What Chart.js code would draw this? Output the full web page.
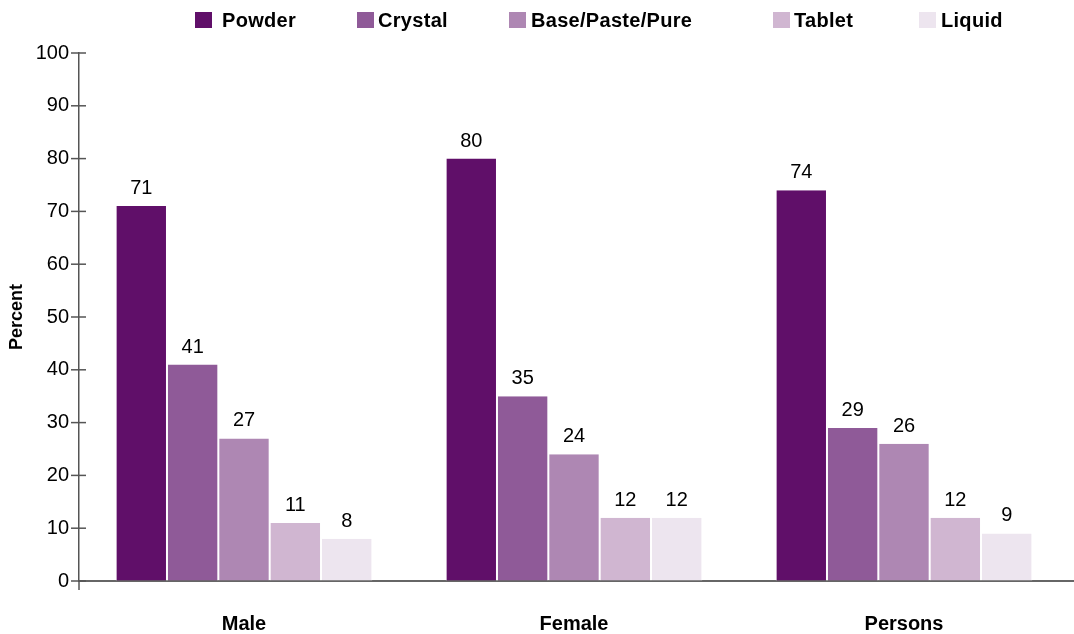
<!DOCTYPE html>
<html>
<head>
<meta charset="utf-8">
<script src="https://cdn.jsdelivr.net/npm/chart.js@4/dist/chart.umd.min.js"></script>
<style>
  body { margin: 0; background: #fff; font-family: "Liberation Sans", Arial, sans-serif; }
  #wrap { position: relative; width: 1074px; height: 634px; }
  #legend { position: absolute; top: 0; left: 0; width: 1074px; height: 40px; }
  .box { position: absolute; top: 12px; width: 17px; height: 16px; }
  .txt { position: absolute; top: 8px; font-weight: bold; font-size: 20px; line-height: 24px; color: #000; letter-spacing: 0.3px; }
</style>
</head>
<body>
<div id="wrap">
  <canvas id="grafico" width="1074" height="634"></canvas>
  <div id="legend"></div>
</div>
<script>
// Datos del gráfico
const categorias = ["Male", "Female", "Persons"];
const series = ["Powder", "Crystal", "Base/Paste/Pure", "Tablet", "Liquid"];
const powder = [71, 80, 74];
const crystal = [41, 35, 29];
const base = [27, 24, 26];
const tablet = [11, 12, 12];
const liquid = [8, 12, 9];
const colores = ["#600f69", "#8f5a98", "#ae87b3", "#d0b6d1", "#ede5ef"];
// posición x de cada cuadro y texto de la leyenda
const posCuadro = [195, 357, 509, 773, 919];
const posTexto = [222, 378, 531, 794, 941];

// Leyenda en HTML
const leyenda = document.getElementById("legend");
series.forEach((s, i) => {
    const box = document.createElement("div");
    box.className = "box";
    box.style.left = posCuadro[i] + "px";
    box.style.background = colores[i];
    const txt = document.createElement("div");
    txt.className = "txt";
    txt.style.left = posTexto[i] + "px";
    txt.textContent = s;
    leyenda.appendChild(box);
    leyenda.appendChild(txt);
});

// Plugin: etiquetas de valor y marcas del eje
const extras = {
    id: "extras",
    afterDraw(chart) {
        const ctx = chart.ctx;
        const area = chart.chartArea;
        const y = chart.scales.y;
        ctx.save();
        // marcas que cruzan el eje y
        ctx.strokeStyle = "#555";
        ctx.lineWidth = 1.5;
        y.ticks.forEach(t => {
            const py = y.getPixelForValue(t.value);
            ctx.beginPath();
            ctx.moveTo(area.left - 8, py);
            ctx.lineTo(area.left + 7, py);
            ctx.stroke();
        });
        ctx.beginPath();
        ctx.moveTo(area.left, area.bottom);
        ctx.lineTo(area.left, area.bottom + 9);
        ctx.stroke();
        // eje x hasta el borde
        ctx.strokeStyle = "#666";
        ctx.lineWidth = 2;
        ctx.beginPath();
        ctx.moveTo(area.right - 1, area.bottom);
        ctx.lineTo(chart.width, area.bottom);
        ctx.stroke();
        // valores encima de las barras
        ctx.fillStyle = "#000";
        ctx.font = "20px 'Liberation Sans', Arial, sans-serif";
        ctx.textAlign = "center";
        ctx.textBaseline = "alphabetic";
        chart.data.datasets.forEach((ds, i) => {
            chart.getDatasetMeta(i).data.forEach((bar, j) => {
                ctx.fillText(ds.data[j], bar.x, bar.y - 12);
            });
        });
        ctx.restore();
    }
};

const datos = [powder, crystal, base, tablet, liquid];

new Chart(document.getElementById("grafico").getContext("2d"), {
    type: "bar",
    data: {
        labels: categorias,
        datasets: series.map((s, i) => ({
            label: s,
            data: datos[i],
            backgroundColor: colores[i],
            borderColor: "#fff",
            borderWidth: { left: 1, right: 1, top: 0, bottom: 0 },
            borderSkipped: "bottom",
            categoryPercentage: 0.778,
            barPercentage: 1,
        })),
    },
    options: {
        responsive: false,
        animation: false,
        devicePixelRatio: 1,
        layout: { padding: { top: 53, right: 5, bottom: 0, left: 0 } },
        plugins: {
            legend: { display: false },
            tooltip: { enabled: false },
        },
        scales: {
            x: {
                grid: { display: false },
                border: { display: true, color: "#666", width: 2 },
                ticks: {
                    color: "#000",
                    font: { family: "'Liberation Sans', Arial, sans-serif", size: 20, weight: "bold" },
                    padding: 23,
                },
                afterFit(scale) { scale.height = 53; },
            },
            y: {
                min: 0,
                max: 100,
                ticks: {
                    stepSize: 10,
                    color: "#000",
                    font: { family: "'Liberation Sans', Arial, sans-serif", size: 20 },
                    padding: 10,
                },
                grid: { drawOnChartArea: false, drawTicks: false },
                border: { display: true, color: "#555", width: 1.5 },
                title: {
                    display: true,
                    text: "Percent",
                    color: "#000",
                    font: { family: "'Liberation Sans', Arial, sans-serif", size: 18, weight: "bold" },
                    padding: { top: 6, bottom: 0 },
                },
                afterFit(scale) { scale.width = 79; },
            },
        },
    },
    plugins: [extras],
});
</script>
</body>
</html>
